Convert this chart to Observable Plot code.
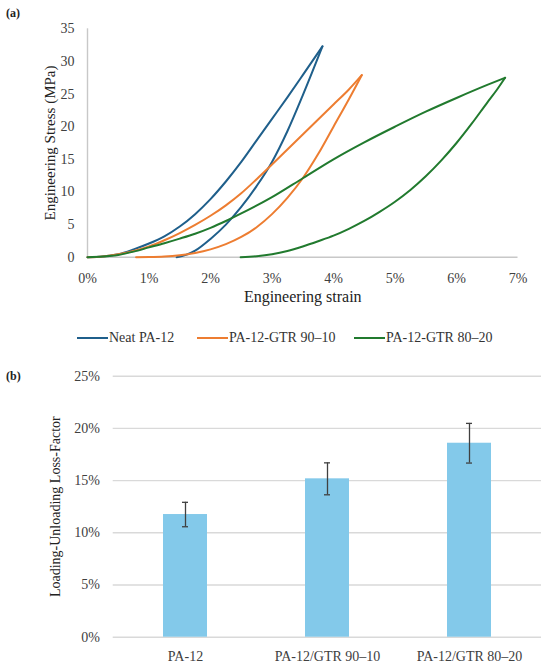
<!DOCTYPE html>
<html><head><meta charset="utf-8">
<script src="https://cdn.jsdelivr.net/npm/d3@7"></script>
<script src="https://cdn.jsdelivr.net/npm/@observablehq/plot@0.6"></script>
<style>
body{margin:0;background:#fff;}
#wrap{position:relative;width:550px;height:669px;font-family:"Liberation Serif","Times New Roman",serif;overflow:hidden;}
.lg{position:absolute;font-size:14px;line-height:16px;color:#333;white-space:nowrap;}
.ln{position:absolute;height:2px;width:31px;}
.tag{position:absolute;font-weight:bold;font-size:12px;line-height:14px;color:#222;}
</style></head><body><div id="wrap"></div>
<script>
// ---- Panel (a): loading-unloading curves (strain in %, stress in MPa) ----
const seriesNames = ["Neat PA-12", "PA-12-GTR 90–10", "PA-12-GTR 80–20"];
const seriesColors = ["#1f5f8b", "#ed7d31", "#217a2e"];

const neatLoadStrain = [0,0.25,0.5,0.75,1.0,1.25,1.5,1.75,2.0,2.25,2.5,2.75,3.0,3.25,3.5,3.82];
const neatLoadStress = [0,0.1,0.45,1.2,2.1,3.2,4.7,6.6,8.9,11.6,14.6,17.9,21.2,24.5,27.9,32.3];
const neatUnloadStrain = [1.45,1.6,1.75,2.0,2.25,2.5,2.75,3.0,3.25,3.5,3.82];
const neatUnloadStress = [0,0.35,1.0,2.8,5.0,7.7,10.9,14.6,19.3,24.8,32.3];

const g90LoadStrain = [0,0.25,0.5,0.75,1.0,1.25,1.5,1.75,2.0,2.25,2.5,2.75,3.0,3.25,3.5,3.75,4.0,4.25,4.46];
const g90LoadStress = [0,0.12,0.45,0.95,1.65,2.6,3.7,4.95,6.35,7.95,9.8,11.95,14.2,16.5,18.8,21.1,23.4,25.7,27.9];
const g90UnloadStrain = [0.79,1.0,1.25,1.5,1.75,2.0,2.25,2.5,2.75,3.0,3.25,3.5,3.75,4.0,4.25,4.46];
const g90UnloadStress = [0,0.02,0.1,0.3,0.65,1.2,2.0,3.1,4.6,6.6,9.1,12.1,15.8,20.0,24.2,27.9];

const g80LoadStrain = [0,0.25,0.5,0.75,1.0,1.25,1.5,1.75,2.0,2.25,2.5,3.0,3.5,4.0,4.5,5.0,5.5,6.0,6.5,6.79];
const g80LoadStress = [0,0.1,0.35,0.85,1.5,2.15,2.85,3.6,4.5,5.55,6.7,9.2,12.1,15.0,17.6,20.0,22.3,24.4,26.4,27.5];
const g80UnloadStrain = [2.49,2.75,3.0,3.25,3.5,3.75,4.0,4.25,4.5,4.75,5.0,5.25,5.5,5.75,6.0,6.25,6.5,6.66,6.79];
const g80UnloadStress = [0,0.15,0.45,0.95,1.65,2.45,3.3,4.35,5.55,6.95,8.5,10.3,12.4,14.8,17.5,20.5,23.7,25.7,27.5];

const strainTicks = [0,0.01,0.02,0.03,0.04,0.05,0.06,0.07];
const stressTicks = [0,5,10,15,20,25,30,35];

// ---- Panel (b): loss factor bars ----
const categories = ["PA-12", "PA-12/GTR 90–10", "PA-12/GTR 80–20"];
const lossFactor = [11.75, 15.17, 18.58];   // %
const lossError = [1.17, 1.53, 1.9];        // % (±)
const lossTicks = [0,0.05,0.10,0.15,0.20,0.25];

// ---- build rows ----
const curveSets = [
  [seriesNames[0], "load", neatLoadStrain, neatLoadStress],
  [seriesNames[0], "unload", neatUnloadStrain, neatUnloadStress],
  [seriesNames[1], "load", g90LoadStrain, g90LoadStress],
  [seriesNames[1], "unload", g90UnloadStrain, g90UnloadStress],
  [seriesNames[2], "load", g80LoadStrain, g80LoadStress],
  [seriesNames[2], "unload", g80UnloadStrain, g80UnloadStress]
];
const curveRows = [];
for (const [series, phase, xs, ys] of curveSets) {
  xs.forEach((s, i) => curveRows.push({series, key: series + phase, strain: s / 100, stress: ys[i]}));
}
const barRows = categories.map((c, i) => ({
  cat: c, value: lossFactor[i] / 100,
  lo: (lossFactor[i] - lossError[i]) / 100, hi: (lossFactor[i] + lossError[i]) / 100
}));

const wrap = document.getElementById("wrap");
const pct = d3.format(".0%");
const fontStack = "'Liberation Serif', 'Times New Roman', serif";

const chartA = Plot.plot({
  width: 550, height: 310,
  marginTop: 28.3, marginBottom: 53.3, marginLeft: 87, marginRight: 32.5,
  style: {fontFamily: fontStack, fontSize: "14px", color: "#404040", background: "transparent"},
  x: {domain: [0, 0.07], label: null},
  y: {domain: [0, 35], label: null},
  color: {domain: seriesNames, range: seriesColors},
  marks: [
    Plot.ruleX([0], {stroke: "#c8c8c8", strokeWidth: 1.4}),
    Plot.ruleY([0], {stroke: "#c8c8c8", strokeWidth: 1.4}),
    Plot.axisX({ticks: strainTicks, tickFormat: pct, tickSize: 0, tickPadding: 16, label: null}),
    Plot.axisY({ticks: stressTicks, tickSize: 0, tickPadding: 13, label: null}),
    Plot.line(curveRows, {x: "strain", y: "stress", z: "key", stroke: "series", curve: "monotone-x", strokeWidth: 2}),
    Plot.text(["Engineering strain"], {frameAnchor: "bottom", lineAnchor: "middle", textAnchor: "middle", dy: 40, fontSize: 16, fill: "#222"}),
    Plot.text(["Engineering Stress (MPa)"], {frameAnchor: "left", lineAnchor: "middle", textAnchor: "middle", rotate: -90, dx: -37, fontSize: 15, fill: "#222"})
  ]
});
chartA.style.position = "absolute"; chartA.style.left = "0px"; chartA.style.top = "0px";
wrap.appendChild(chartA);

const chartB = Plot.plot({
  width: 550, height: 314,
  marginTop: 20.7, marginBottom: 32.3, marginLeft: 112.7, marginRight: 9,
  style: {fontFamily: fontStack, fontSize: "14px", color: "#404040", background: "transparent"},
  x: {domain: categories, paddingInner: 0.69, paddingOuter: 0.345, label: null},
  y: {domain: [0, 0.25], label: null},
  marks: [
    Plot.ruleY(lossTicks, {stroke: "#d9d9d9", strokeWidth: 1.4}),
    Plot.barY(barRows, {x: "cat", y: "value", fill: "#83c9ea"}),
    Plot.ruleX(barRows, {x: "cat", y1: "lo", y2: "hi", stroke: "#404040", strokeWidth: 1.3}),
    Plot.tickY(barRows, {x: "cat", y: "hi", insetLeft: 19, insetRight: 19, stroke: "#404040", strokeWidth: 1.3}),
    Plot.tickY(barRows, {x: "cat", y: "lo", insetLeft: 19, insetRight: 19, stroke: "#404040", strokeWidth: 1.3}),
    Plot.axisY({ticks: lossTicks, tickFormat: pct, tickSize: 0, tickPadding: 13.4, label: null}),
    Plot.axisX({tickSize: 0, tickPadding: 13.5, label: null}),
    Plot.text(["Loading-Unloading Loss-Factor"], {frameAnchor: "left", lineAnchor: "middle", textAnchor: "middle", rotate: -90, dx: -57.7, fontSize: 14, fill: "#222"})
  ]
});
chartB.style.position = "absolute"; chartB.style.left = "0px"; chartB.style.top = "355px";
wrap.appendChild(chartB);

// panel tags
for (const [t, y] of [["(a)", 6], ["(b)", 369]]) {
  const d = document.createElement("div");
  d.className = "tag"; d.textContent = t; d.style.left = "6px"; d.style.top = y + "px";
  wrap.appendChild(d);
}

// legend for panel (a)
const legendLeft = [77, 197, 354];
seriesNames.forEach((name, i) => {
  const l = document.createElement("div");
  l.className = "ln"; l.style.left = legendLeft[i] + "px"; l.style.top = "337px"; l.style.background = seriesColors[i];
  wrap.appendChild(l);
  const t = document.createElement("div");
  t.className = "lg"; t.textContent = name; t.style.left = (legendLeft[i] + 32) + "px"; t.style.top = "330px";
  wrap.appendChild(t);
});
</script></body></html>
